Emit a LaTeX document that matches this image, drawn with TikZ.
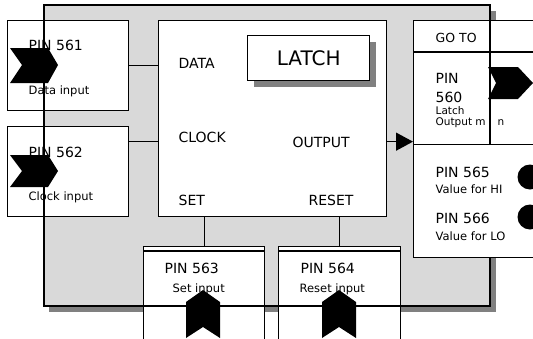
\documentclass[tikz,border=0pt]{standalone}
\usepackage{fontspec}
\setmainfont{DejaVu Sans}
\usetikzlibrary{arrows.meta,positioning,shadows}

\begin{document}
\begin{tikzpicture}[x=1pt, y=-1pt, line width=1.3pt,
    pinbox/.style={draw, fill=white, anchor=north west, inner sep=0pt},
    txt/.style={anchor=base west, inner sep=0pt, font=\fontsize{14}{16}\selectfont},
    small/.style={anchor=base west, inner sep=0pt, font=\fontsize{11.5}{13}\selectfont},
    tip/.style={fill=black}]
    \useasboundingbox (0,0) rectangle (533,338);
    % --- 1. Main panel and its shadow ---
    \fill[black!50] (49,11) rectangle (496,312);
    \fill[black!15] (44,5) rectangle (490,306);
    % --- 2. Input pins ---
    \node[pinbox, minimum width=121pt, minimum height=90pt] (pin561) at (7,20) {};
    \node[pinbox, minimum width=121pt, minimum height=90pt] (pin562) at (7,126) {};
    \fill[tip] (10,48) -- (48,48) -- (58,65) -- (48,83) -- (10,83) -- (22,65) -- cycle;
    \fill[tip] (10,155) -- (48,155) -- (58,171) -- (48,187) -- (10,187) -- (22,171) -- cycle;
    \node[txt] (t561) at (28,50) {PIN 561};
    \node[small] (d561) at (28,94) {Data input};
    \node[txt] (t562) at (28,157) {PIN 562};
    \node[small] (d562) at (28,200) {Clock input};
    \node[pinbox, minimum width=121pt, minimum height=100pt] (pin563) at (143,246) {};
    \node[pinbox, minimum width=122pt, minimum height=100pt] (pin564) at (278,246) {};
    \draw (pin563.north west) ++(0,5) -- ++(121,0);
    \draw (pin564.north west) ++(0,5) -- ++(122,0);
    \fill[tip] (186,338) -- (186,302) -- (203,290) -- (220,302) -- (220,338) -- (203,327) -- cycle;
    \fill[tip] (322,338) -- (322,302) -- (339,290) -- (356,302) -- (356,338) -- (339,327) -- cycle;
    \node[txt] (t563) at (164,273) {PIN 563};
    \node[small] (d563) at (172,292) {Set input};
    \node[txt] (t564) at (300,273) {PIN 564};
    \node[small] (d564) at (299,292) {Reset input};
    % --- 3. Latch block ---
    \node[pinbox, minimum width=228pt, minimum height=196pt] (latch) at (158,20) {};
    \node[pinbox, minimum width=122pt, minimum height=45pt,
        drop shadow={shadow xshift=6pt, shadow yshift=-6pt, opacity=1, fill=black!50}]
        (title) at (247,35) {};
    \node[font=\fontsize{20}{22}\selectfont, inner sep=0pt] (ttext) at (title.center) {LATCH};
    \node[txt] (data) at (178,68) {DATA};
    \node[txt] (clock) at (178,142) {CLOCK};
    \node[txt] (output) at (292,147) {OUTPUT};
    \node[txt] (set) at (178,205) {SET};
    \node[txt] (reset) at (308,205) {RESET};
    \draw (pin561.east) -- (pin561.east -| latch.west);
    \draw ([yshift=30pt]pin562.east) -- ([yshift=30pt]pin562.east -| latch.west);
    \draw (pin563.north |- latch.south) -- (pin563.north);
    \draw (pin564.north |- latch.south) -- (pin564.north);
    % --- 4. Output side ---
    \node[pinbox, minimum width=130pt, minimum height=124pt] (goto) at (413,20) {};
    \draw (goto.north west) ++(0,32) -- ++(130,0);
    \fill[tip] (488,67) -- (518,67) -- (533,83) -- (518,99) -- (488,99) -- (496,83) -- cycle;
    \node[font=\fontsize{12.5}{14}\selectfont, anchor=base west, inner sep=0pt] (tgoto) at (435,42) {GO TO};
    \node[txt] (t560a) at (435,83) {PIN};
    \node[txt] (t560b) at (435,102) {560};
    \node[small, font=\fontsize{10.5}{12}\selectfont] (d560a) at (435,114.5) {Latch};
    \node[small, font=\fontsize{10.5}{12}\selectfont] (d560b) at (435,125) {Output m};
    \node[small, font=\fontsize{10.5}{12}\selectfont] (d560c) at (497,125) {n};
    \coordinate (outp) at ([yshift=-23pt]latch.east);
    \draw[-{Triangle[length=17pt, width=18pt]}] (outp) -- (outp -| goto.west);
    % main panel border over everything but the value box
    \draw (44,5) rectangle (490,306);
    \node[pinbox, minimum width=130pt, minimum height=113pt] (hilo) at (413,144) {};
    \fill (530,177) circle (12.5pt);
    \fill (530,217) circle (12.5pt);
    \node[txt] (t565) at (435,177) {PIN 565};
    \node[small] (d565) at (435,193) {Value for HI};
    \node[txt] (t566) at (435,223) {PIN 566};
    \node[small] (d566) at (435,240) {Value for LO};
\end{tikzpicture}
\end{document}
